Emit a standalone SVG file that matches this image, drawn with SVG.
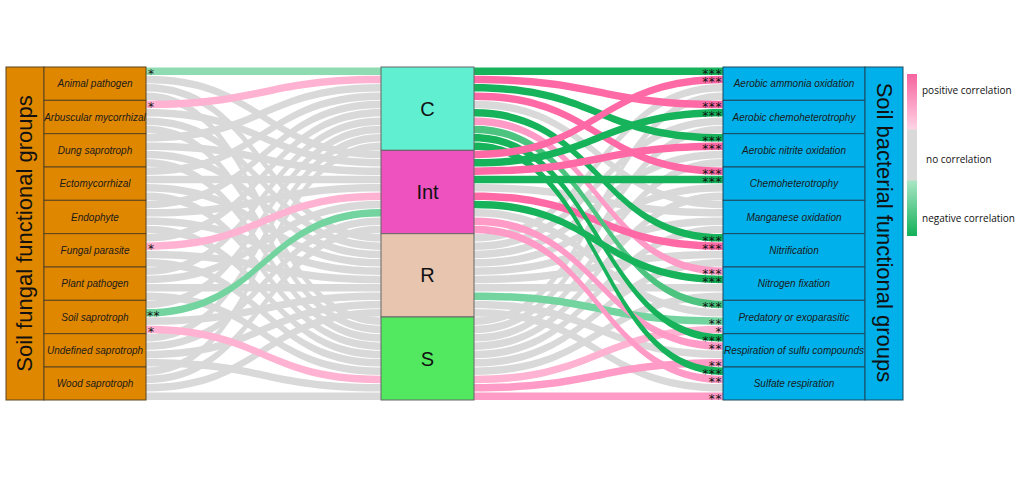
<svg xmlns="http://www.w3.org/2000/svg" width="1024" height="501" viewBox="0 0 1024 501">
<style>
.g{fill:#d9d9d9}
.gs{fill:#16b35b}.gm{fill:#4cc47f}.gl{fill:#74d4a0}.gx{fill:#8fdcb3}
.ps{fill:#ff6aa6}.pm{fill:#ff9bc6}.pl{fill:#ffb2d1}
.lab{font-family:"Liberation Sans",Arial,sans-serif;font-style:italic;font-size:10px;fill:#1a1a1a;text-anchor:middle}
.ttl{font-family:"Liberation Sans",Arial,sans-serif;font-size:22px;fill:#111;text-anchor:middle}
.ctr{font-family:"Liberation Sans",Arial,sans-serif;font-size:20px;fill:#111;text-anchor:middle}
.st{font-family:"DejaVu Sans",sans-serif;font-size:12px;fill:#111;letter-spacing:0.6px}
.str{font-family:"DejaVu Sans",sans-serif;font-size:12px;fill:#111;letter-spacing:0.6px;text-anchor:end}
.leg{font-family:"Open Sans","Liberation Sans",sans-serif;font-size:10px;fill:#111}
.fb{fill:#e08700;stroke:#5a4420;stroke-width:1}
.bb{fill:#00b0ea;stroke:#1d4a60;stroke-width:1}
.cb{stroke:#666;stroke-width:1}
</style>
<defs>
<linearGradient id="lg" x1="0" y1="0" x2="0" y2="1">
<stop offset="0" stop-color="#f5649f"/>
<stop offset="0.34" stop-color="#ffd2e4"/>
<stop offset="0.345" stop-color="#d9d9d9"/>
<stop offset="0.655" stop-color="#d9d9d9"/>
<stop offset="0.66" stop-color="#a8e6c4"/>
<stop offset="1" stop-color="#12b058"/>
</linearGradient>
</defs>
<rect width="1024" height="501" fill="#fff"/>
<g id="connectors">
<g id="left-gray" class="g">
<path d="M146 75.7C263.5 75.7 263.5 150.7 381 150.7V158.2C263.5 158.2 263.5 83.2 146 83.2Z"/>
<path d="M146 84.1C263.5 84.1 263.5 234.1 381 234.1V241.6C263.5 241.6 263.5 91.6 146 91.6Z"/>
<path d="M146 92.4C263.5 92.4 263.5 317.4 381 317.4V324.9C263.5 324.9 263.5 99.9 146 99.9Z"/>
<path d="M146 109.1C263.5 109.1 263.5 159.1 381 159.1V166.6C263.5 166.6 263.5 116.6 146 116.6Z"/>
<path d="M146 117.4C263.5 117.4 263.5 242.4 381 242.4V249.9C263.5 249.9 263.5 124.9 146 124.9Z"/>
<path d="M146 125.7C263.5 125.7 263.5 325.7 381 325.7V333.2C263.5 333.2 263.5 133.2 146 133.2Z"/>
<path d="M146 134.1C263.5 134.1 263.5 84.1 381 84.1V91.6C263.5 91.6 263.5 141.6 146 141.6Z"/>
<path d="M146 142.4C263.5 142.4 263.5 167.4 381 167.4V174.9C263.5 174.9 263.5 149.9 146 149.9Z"/>
<path d="M146 150.7C263.5 150.7 263.5 250.7 381 250.7V258.2C263.5 258.2 263.5 158.2 146 158.2Z"/>
<path d="M146 159.1C263.5 159.1 263.5 334.1 381 334.1V341.6C263.5 341.6 263.5 166.6 146 166.6Z"/>
<path d="M146 167.4C263.5 167.4 263.5 92.4 381 92.4V99.9C263.5 99.9 263.5 174.9 146 174.9Z"/>
<path d="M146 175.7H381V183.2H146Z"/>
<path d="M146 184.1C263.5 184.1 263.5 259.1 381 259.1V266.6C263.5 266.6 263.5 191.6 146 191.6Z"/>
<path d="M146 192.4C263.5 192.4 263.5 342.4 381 342.4V349.9C263.5 349.9 263.5 199.9 146 199.9Z"/>
<path d="M146 200.7C263.5 200.7 263.5 100.7 381 100.7V108.2C263.5 108.2 263.5 208.2 146 208.2Z"/>
<path d="M146 209.1C263.5 209.1 263.5 184.1 381 184.1V191.6C263.5 191.6 263.5 216.6 146 216.6Z"/>
<path d="M146 217.4C263.5 217.4 263.5 267.4 381 267.4V274.9C263.5 274.9 263.5 224.9 146 224.9Z"/>
<path d="M146 225.7C263.5 225.7 263.5 350.7 381 350.7V358.2C263.5 358.2 263.5 233.2 146 233.2Z"/>
<path d="M146 234.1C263.5 234.1 263.5 109.1 381 109.1V116.6C263.5 116.6 263.5 241.6 146 241.6Z"/>
<path d="M146 250.7C263.5 250.7 263.5 275.7 381 275.7V283.2C263.5 283.2 263.5 258.2 146 258.2Z"/>
<path d="M146 259.1C263.5 259.1 263.5 359.1 381 359.1V366.6C263.5 366.6 263.5 266.6 146 266.6Z"/>
<path d="M146 267.4C263.5 267.4 263.5 117.4 381 117.4V124.9C263.5 124.9 263.5 274.9 146 274.9Z"/>
<path d="M146 275.7C263.5 275.7 263.5 200.7 381 200.7V208.2C263.5 208.2 263.5 283.2 146 283.2Z"/>
<path d="M146 284.1H381V291.6H146Z"/>
<path d="M146 292.4C263.5 292.4 263.5 367.4 381 367.4V374.9C263.5 374.9 263.5 299.9 146 299.9Z"/>
<path d="M146 300.7C263.5 300.7 263.5 125.7 381 125.7V133.2C263.5 133.2 263.5 308.2 146 308.2Z"/>
<path d="M146 317.4C263.5 317.4 263.5 292.4 381 292.4V299.9C263.5 299.9 263.5 324.9 146 324.9Z"/>
<path d="M146 334.1C263.5 334.1 263.5 134.1 381 134.1V141.6C263.5 141.6 263.5 341.6 146 341.6Z"/>
<path d="M146 342.4C263.5 342.4 263.5 217.4 381 217.4V224.9C263.5 224.9 263.5 349.9 146 349.9Z"/>
<path d="M146 350.7C263.5 350.7 263.5 300.7 381 300.7V308.2C263.5 308.2 263.5 358.2 146 358.2Z"/>
<path d="M146 359.1C263.5 359.1 263.5 384.1 381 384.1V391.6C263.5 391.6 263.5 366.6 146 366.6Z"/>
<path d="M146 367.4C263.5 367.4 263.5 142.4 381 142.4V149.9C263.5 149.9 263.5 374.9 146 374.9Z"/>
<path d="M146 375.7C263.5 375.7 263.5 225.7 381 225.7V233.2C263.5 233.2 263.5 383.2 146 383.2Z"/>
<path d="M146 384.1C263.5 384.1 263.5 309.1 381 309.1V316.6C263.5 316.6 263.5 391.6 146 391.6Z"/>
<path d="M146 392.4H381V399.9H146Z"/>
</g>
<g id="right-gray" class="g">
<path d="M474 100.7C598.5 100.7 598.5 200.7 723 200.7V208.2C598.5 208.2 598.5 108.2 474 108.2Z"/>
<path d="M474 184.1C598.5 184.1 598.5 209.1 723 209.1V216.6C598.5 216.6 598.5 191.6 474 191.6Z"/>
<path d="M474 209.1C598.5 209.1 598.5 309.1 723 309.1V316.6C598.5 316.6 598.5 216.6 474 216.6Z"/>
<path d="M474 234.1C598.5 234.1 598.5 84.1 723 84.1V91.6C598.5 91.6 598.5 241.6 474 241.6Z"/>
<path d="M474 242.4C598.5 242.4 598.5 117.4 723 117.4V124.9C598.5 124.9 598.5 249.9 474 249.9Z"/>
<path d="M474 250.7C598.5 250.7 598.5 150.7 723 150.7V158.2C598.5 158.2 598.5 258.2 474 258.2Z"/>
<path d="M474 259.1C598.5 259.1 598.5 184.1 723 184.1V191.6C598.5 191.6 598.5 266.6 474 266.6Z"/>
<path d="M474 267.4C598.5 267.4 598.5 217.4 723 217.4V224.9C598.5 224.9 598.5 274.9 474 274.9Z"/>
<path d="M474 275.7C598.5 275.7 598.5 250.7 723 250.7V258.2C598.5 258.2 598.5 283.2 474 283.2Z"/>
<path d="M474 284.1H723V291.6H474Z"/>
<path d="M474 300.7C598.5 300.7 598.5 350.7 723 350.7V358.2C598.5 358.2 598.5 308.2 474 308.2Z"/>
<path d="M474 309.1C598.5 309.1 598.5 384.1 723 384.1V391.6C598.5 391.6 598.5 316.6 474 316.6Z"/>
<path d="M474 317.4C598.5 317.4 598.5 92.4 723 92.4V99.9C598.5 99.9 598.5 324.9 474 324.9Z"/>
<path d="M474 325.7C598.5 325.7 598.5 125.7 723 125.7V133.2C598.5 133.2 598.5 333.2 474 333.2Z"/>
<path d="M474 334.1C598.5 334.1 598.5 159.1 723 159.1V166.6C598.5 166.6 598.5 341.6 474 341.6Z"/>
<path d="M474 342.4C598.5 342.4 598.5 192.4 723 192.4V199.9C598.5 199.9 598.5 349.9 474 349.9Z"/>
<path d="M474 350.7C598.5 350.7 598.5 225.7 723 225.7V233.2C598.5 233.2 598.5 358.2 474 358.2Z"/>
<path d="M474 359.1C598.5 359.1 598.5 259.1 723 259.1V266.6C598.5 266.6 598.5 366.6 474 366.6Z"/>
<path d="M474 367.4C598.5 367.4 598.5 292.4 723 292.4V299.9C598.5 299.9 598.5 374.9 474 374.9Z"/>
</g>
<g id="left-colored">
<path class="gx" d="M146 67.4H381V74.9H146Z"/>
<path class="pl" d="M146 100.7C263.5 100.7 263.5 75.7 381 75.7V83.2C263.5 83.2 263.5 108.2 146 108.2Z"/>
<path class="pl" d="M146 242.4C263.5 242.4 263.5 192.4 381 192.4V199.9C263.5 199.9 263.5 249.9 146 249.9Z"/>
<path class="gl" d="M146 309.1C263.5 309.1 263.5 209.1 381 209.1V216.6C263.5 216.6 263.5 316.6 146 316.6Z"/>
<path class="pl" d="M146 325.7C263.5 325.7 263.5 375.7 381 375.7V383.2C263.5 383.2 263.5 333.2 146 333.2Z"/>
</g>
<g id="right-colored">
<path class="gl" d="M474 292.4C598.5 292.4 598.5 317.4 723 317.4V324.9C598.5 324.9 598.5 299.9 474 299.9Z"/>
<path class="pl" d="M474 375.7C598.5 375.7 598.5 325.7 723 325.7V333.2C598.5 333.2 598.5 383.2 474 383.2Z"/>
<path class="pm" d="M474 384.1C598.5 384.1 598.5 359.1 723 359.1V366.6C598.5 366.6 598.5 391.6 474 391.6Z"/>
<path class="pm" d="M474 392.4H723V399.9H474Z"/>
<path class="pm" d="M474 217.4C598.5 217.4 598.5 342.4 723 342.4V349.9C598.5 349.9 598.5 224.9 474 224.9Z"/>
<path class="pm" d="M474 225.7C598.5 225.7 598.5 375.7 723 375.7V383.2C598.5 383.2 598.5 233.2 474 233.2Z"/>
<path class="pm" d="M474 117.4C598.5 117.4 598.5 267.4 723 267.4V274.9C598.5 274.9 598.5 124.9 474 124.9Z"/>
<path class="ps" d="M474 192.4C598.5 192.4 598.5 242.4 723 242.4V249.9C598.5 249.9 598.5 199.9 474 199.9Z"/>
<path class="ps" d="M474 75.7C598.5 75.7 598.5 100.7 723 100.7V108.2C598.5 108.2 598.5 83.2 474 83.2Z"/>
<path class="ps" d="M474 92.4C598.5 92.4 598.5 167.4 723 167.4V174.9C598.5 174.9 598.5 99.9 474 99.9Z"/>
<path class="gm" d="M474 125.7C598.5 125.7 598.5 300.7 723 300.7V308.2C598.5 308.2 598.5 133.2 474 133.2Z"/>
<path class="gs" d="M474 67.4H723V74.9H474Z"/>
<path class="gs" d="M474 84.1C598.5 84.1 598.5 134.1 723 134.1V141.6C598.5 141.6 598.5 91.6 474 91.6Z"/>
<path class="gs" d="M474 109.1C598.5 109.1 598.5 234.1 723 234.1V241.6C598.5 241.6 598.5 116.6 474 116.6Z"/>
<path class="gs" d="M474 134.1C598.5 134.1 598.5 334.1 723 334.1V341.6C598.5 341.6 598.5 141.6 474 141.6Z"/>
<path class="gs" d="M474 142.4C598.5 142.4 598.5 367.4 723 367.4V374.9C598.5 374.9 598.5 149.9 474 149.9Z"/>
<path class="gs" d="M474 200.7C598.5 200.7 598.5 275.7 723 275.7V283.2C598.5 283.2 598.5 208.2 474 208.2Z"/>
<path class="gs" d="M474 159.1C598.5 159.1 598.5 109.1 723 109.1V116.6C598.5 116.6 598.5 166.6 474 166.6Z"/>
<path class="gs" d="M474 175.7H723V183.2H474Z"/>
<path class="ps" d="M474 150.7C598.5 150.7 598.5 75.7 723 75.7V83.2C598.5 83.2 598.5 158.2 474 158.2Z"/>
<path class="ps" d="M474 167.4C598.5 167.4 598.5 142.4 723 142.4V149.9C598.5 149.9 598.5 174.9 474 174.9Z"/>
</g>
<g id="significance">
<text class="st" x="148" y="78">*</text>
<text class="st" x="148" y="111.3">*</text>
<text class="st" x="148" y="253">*</text>
<text class="st" x="147" y="319.7">**</text>
<text class="st" x="148" y="336.3">*</text>
<text class="str" x="722" y="78">***</text>
<text class="str" x="722" y="86.3">***</text>
<text class="str" x="722" y="111.3">***</text>
<text class="str" x="722" y="119.7">***</text>
<text class="str" x="722" y="144.7">***</text>
<text class="str" x="722" y="153">***</text>
<text class="str" x="722" y="178">***</text>
<text class="str" x="722" y="186.3">***</text>
<text class="str" x="722" y="244.7">***</text>
<text class="str" x="722" y="253">***</text>
<text class="str" x="722" y="278">***</text>
<text class="str" x="722" y="286.3">***</text>
<text class="str" x="722" y="311.3">***</text>
<text class="str" x="722" y="328">**</text>
<text class="str" x="722" y="336.3">*</text>
<text class="str" x="722" y="344.7">***</text>
<text class="str" x="722" y="353">**</text>
<text class="str" x="722" y="369.7">**</text>
<text class="str" x="722" y="378">***</text>
<text class="str" x="722" y="386.3">**</text>
<text class="str" x="722" y="403">**</text>
</g>
</g>
<g id="fungal-title">
<rect class="fb" x="6" y="67" width="38" height="333"/>
<text class="ttl" transform="translate(32 233.5) rotate(-90)">Soil fungal functional groups</text>
</g>
<g id="fungal-groups">
<g id="f-animal"><rect class="fb" x="44" y="67" width="102" height="33.33"/><text class="lab" x="95" y="87.2">Animal pathogen</text></g>
<g id="f-arbuscular"><rect class="fb" x="44" y="100.33" width="102" height="33.33"/><text class="lab" x="95" y="120.5">Arbuscular mycorrhizal</text></g>
<g id="f-dung"><rect class="fb" x="44" y="133.67" width="102" height="33.33"/><text class="lab" x="95" y="153.8">Dung saprotroph</text></g>
<g id="f-ecto"><rect class="fb" x="44" y="167" width="102" height="33.33"/><text class="lab" x="95" y="187.2">Ectomycorrhizal</text></g>
<g id="f-endo"><rect class="fb" x="44" y="200.33" width="102" height="33.33"/><text class="lab" x="95" y="220.5">Endophyte</text></g>
<g id="f-fungalpar"><rect class="fb" x="44" y="233.67" width="102" height="33.33"/><text class="lab" x="95" y="253.8">Fungal parasite</text></g>
<g id="f-plant"><rect class="fb" x="44" y="267" width="102" height="33.33"/><text class="lab" x="95" y="287.2">Plant pathogen</text></g>
<g id="f-soil"><rect class="fb" x="44" y="300.33" width="102" height="33.33"/><text class="lab" x="95" y="320.5">Soil saprotroph</text></g>
<g id="f-undef"><rect class="fb" x="44" y="333.67" width="102" height="33.33"/><text class="lab" x="95" y="353.8">Undefined saprotroph</text></g>
<g id="f-wood"><rect class="fb" x="44" y="367" width="102" height="33"/><text class="lab" x="95" y="387.2">Wood saprotroph</text></g>
</g>
<g id="strategies">
<g id="s-C"><rect class="cb" x="381" y="67" width="93" height="83.33" fill="#60efd1"/><text class="ctr" x="427.5" y="115.7">C</text></g>
<g id="s-Int"><rect class="cb" x="381" y="150.33" width="93" height="83.33" fill="#ee52bf"/><text class="ctr" x="427.5" y="199">Int</text></g>
<g id="s-R"><rect class="cb" x="381" y="233.67" width="93" height="83.33" fill="#e8c5ae"/><text class="ctr" x="427.5" y="282.3">R</text></g>
<g id="s-S"><rect class="cb" x="381" y="317" width="93" height="83" fill="#52e860"/><text class="ctr" x="427.5" y="365.7">S</text></g>
</g>
<g id="bacterial-groups">
<g id="b-aao"><rect class="bb" x="723" y="67" width="142" height="33.33"/><text class="lab" x="794" y="87.2">Aerobic ammonia oxidation</text></g>
<g id="b-ach"><rect class="bb" x="723" y="100.33" width="142" height="33.33"/><text class="lab" x="794" y="120.5">Aerobic chemoheterotrophy</text></g>
<g id="b-ano"><rect class="bb" x="723" y="133.67" width="142" height="33.33"/><text class="lab" x="794" y="153.8">Aerobic nitrite oxidation</text></g>
<g id="b-chemo"><rect class="bb" x="723" y="167" width="142" height="33.33"/><text class="lab" x="794" y="187.2">Chemoheterotrophy</text></g>
<g id="b-mn"><rect class="bb" x="723" y="200.33" width="142" height="33.33"/><text class="lab" x="794" y="220.5">Manganese oxidation</text></g>
<g id="b-nitri"><rect class="bb" x="723" y="233.67" width="142" height="33.33"/><text class="lab" x="794" y="253.8">Nitrification</text></g>
<g id="b-nfix"><rect class="bb" x="723" y="267" width="142" height="33.33"/><text class="lab" x="794" y="287.2">Nitrogen fixation</text></g>
<g id="b-pred"><rect class="bb" x="723" y="300.33" width="142" height="33.33"/><text class="lab" x="794" y="320.5">Predatory or exoparasitic</text></g>
<g id="b-resp"><rect class="bb" x="723" y="333.67" width="142" height="33.33"/><text class="lab" x="794" y="353.8">Respiration of sulfu compounds</text></g>
<g id="b-sulf"><rect class="bb" x="723" y="367" width="142" height="33"/><text class="lab" x="794" y="387.2">Sulfate respiration</text></g>
</g>
<g id="bacterial-title">
<rect class="bb" x="865" y="67" width="38" height="333"/>
<text class="ttl" transform="translate(876.5 232.5) rotate(90)">Soil bacterial functional groups</text>
</g>
<g id="legend">
<rect x="907" y="74" width="10" height="162" fill="url(#lg)"/>
<text class="leg" x="922" y="94">positive correlation</text>
<text class="leg" x="926" y="163">no correlation</text>
<text class="leg" x="922" y="222">negative correlation</text>
</g>
</svg>
